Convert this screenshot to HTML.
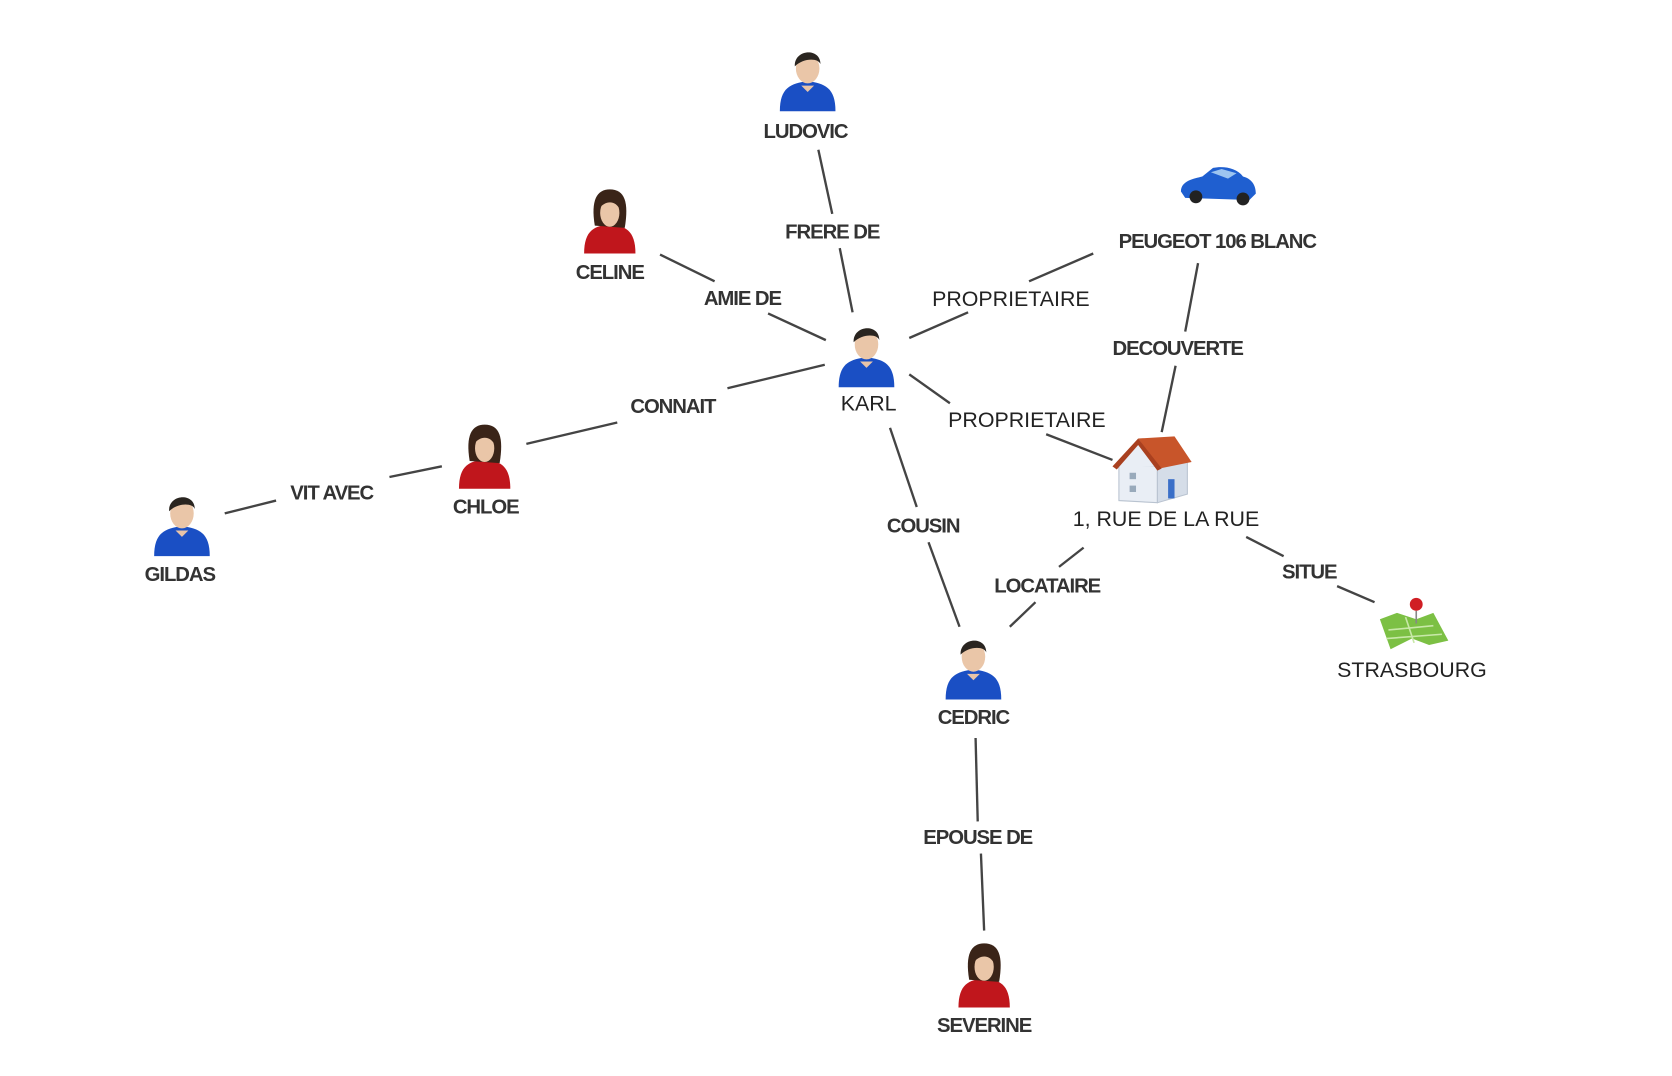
<!DOCTYPE html>
<html><head><meta charset="utf-8"><style>
html,body{margin:0;padding:0;background:#fff;}
svg{display:block}
.b{font-family:"Liberation Sans",sans-serif;font-size:19px;font-weight:bold;fill:#333;letter-spacing:-1px;text-anchor:middle}
.n{font-family:"Liberation Sans",sans-serif;font-size:20px;fill:#222;text-anchor:middle}
line{stroke:#444;stroke-width:2.2}
</style></head><body>
<svg width="1672" height="1076" viewBox="0 0 1563 1006" xmlns="http://www.w3.org/2000/svg">
<defs>
<g id="man">
 <path d="M-26,30 C-26,8 -16,4 0,2 C16,4 26,8 26,30 Z" fill="#1a4fc4"/>
 <path d="M-6,6 L0,12 L6,6 Z" fill="#e8c4a8"/>
 <ellipse cx="0" cy="-10" rx="11" ry="14" fill="#eac6a8"/>
 <path d="M-12,-12 C-13,-28 12,-30 12,-14 C10,-20 -4,-20 -12,-12 Z" fill="#2a2520"/>
</g>
<g id="woman">
 <path d="M-24,30 C-24,8 -14,4 0,3 C14,4 24,8 24,30 Z" fill="#c0161c"/>
 <path d="M-14,4 C-18,-20 -12,-30 0,-30 C14,-30 18,-18 14,6 Z" fill="#3a2418"/>
 <ellipse cx="0" cy="-8" rx="9" ry="13" fill="#eac6a8"/>
 <path d="M-10,-12 C-8,-26 10,-26 10,-10 C6,-20 -4,-20 -10,-12 Z" fill="#3a2418"/>
</g>
</defs>

<!-- edges -->
<line x1="765" y1="140" x2="778" y2="200"/><line x1="785" y1="232" x2="797" y2="292"/>
<line x1="617" y1="238" x2="668" y2="263"/><line x1="718" y1="293" x2="772" y2="318"/>
<line x1="850" y1="316" x2="905" y2="292"/><line x1="962" y1="263" x2="1022" y2="237"/>
<line x1="1120" y1="246" x2="1108" y2="310"/><line x1="1099" y1="342" x2="1086" y2="404"/>
<line x1="850" y1="350" x2="888" y2="377"/><line x1="978" y1="406" x2="1040" y2="430"/>
<line x1="771" y1="341" x2="680" y2="363"/><line x1="577" y1="395" x2="492" y2="415"/>
<line x1="413" y1="436" x2="364" y2="446"/><line x1="258" y1="468" x2="210" y2="480"/>
<line x1="832" y1="400" x2="857" y2="474"/><line x1="868" y1="507" x2="897" y2="586"/>
<line x1="1013" y1="512" x2="990" y2="530"/><line x1="968" y1="563" x2="944" y2="586"/>
<line x1="1165" y1="502" x2="1200" y2="520"/><line x1="1250" y1="548" x2="1285" y2="563"/>
<line x1="912" y1="690" x2="914" y2="768"/><line x1="917" y1="798" x2="920" y2="870"/>

<!-- edge labels -->
<text class="b" x="778" y="223">FRERE DE</text>
<text class="b" x="694" y="285">AMIE DE</text>
<text class="n" x="945" y="286">PROPRIETAIRE</text>
<text class="b" x="1101" y="332">DECOUVERTE</text>
<text class="n" x="960" y="399">PROPRIETAIRE</text>
<text class="b" x="629" y="386">CONNAIT</text>
<text class="b" x="310" y="467">VIT AVEC</text>
<text class="b" x="863" y="498">COUSIN</text>
<text class="b" x="979" y="554">LOCATAIRE</text>
<text class="b" x="1224" y="541">SITUE</text>
<text class="b" x="914" y="789">EPOUSE DE</text>

<!-- nodes -->
<use href="#man" x="755" y="74"/><text class="b" x="753" y="129">LUDOVIC</text>
<use href="#woman" x="570" y="207"/><text class="b" x="570" y="261">CELINE</text>
<use href="#man" x="810" y="332"/><text class="n" x="812" y="384">KARL</text>
<use href="#man" x="453" y="428" style="display:none"/>
<use href="#woman" x="453" y="427"/><text class="b" x="454" y="480">CHLOE</text>
<use href="#man" x="170" y="490"/><text class="b" x="168" y="543">GILDAS</text>
<use href="#man" x="910" y="624"/><text class="b" x="910" y="677">CEDRIC</text>
<use href="#woman" x="920" y="912"/><text class="b" x="920" y="965">SEVERINE</text>

<!-- car -->
<g transform="translate(1138,175)">
 <path d="M-34,4 C-34,-6 -22,-8 -14,-10 L-4,-18 C6,-20 18,-18 24,-10 C32,-8 36,-2 36,6 L30,12 L-30,10 Z" fill="#1f5fd0"/>
 <path d="M-6,-14 L4,-17 L18,-13 L10,-8 Z" fill="#9cc4f0"/>
 <circle cx="-20" cy="9" r="6" fill="#222"/><circle cx="24" cy="11" r="6" fill="#222"/>
</g>
<text class="b" x="1138" y="232">PEUGEOT 106 BLANC</text>

<!-- house -->
<g transform="translate(1078,440)">
 <path d="M-32,-6 L-32,28 L4,30 L4,-4 Z" fill="#e9eef5" stroke="#b9c3d0"/>
 <path d="M4,-4 L4,30 L32,22 L32,-8 Z" fill="#d5dde8" stroke="#b9c3d0"/>
 <path d="M-36,-4 L-14,-28 L8,-4 Z" fill="#e9eef5"/>
 <path d="M-14,-30 L20,-32 L36,-8 L6,-2 Z" fill="#c8552a"/>
 <path d="M-38,-4 L-14,-30 L8,-2 L4,0 L-14,-24 L-34,-1 Z" fill="#a9401f"/>
 <rect x="14" y="8" width="6" height="18" fill="#3a6fc8"/>
 <rect x="-22" y="2" width="6" height="6" fill="#9ab"/><rect x="-22" y="14" width="6" height="6" fill="#9ab"/>
</g>
<text class="n" x="1090" y="492">1, RUE DE LA RUE</text>

<!-- map -->
<g transform="translate(1320,585)">
 <path d="M-30,-6 L-14,-12 L4,-6 L20,-12 L34,14 L16,18 L0,12 L-20,22 Z" fill="#7cc044"/>
 <path d="M-22,4 L20,0 M-6,-8 L2,16 M-24,12 L28,8" stroke="#c8e8a8" stroke-width="1.5" fill="none"/>
 <line x1="4" y1="-14" x2="4" y2="-2" style="stroke:#888;stroke-width:1.5"/>
 <circle cx="4" cy="-20" r="6" fill="#d01e24"/>
</g>
<text class="n" x="1320" y="633">STRASBOURG</text>
</svg>
</body></html>
